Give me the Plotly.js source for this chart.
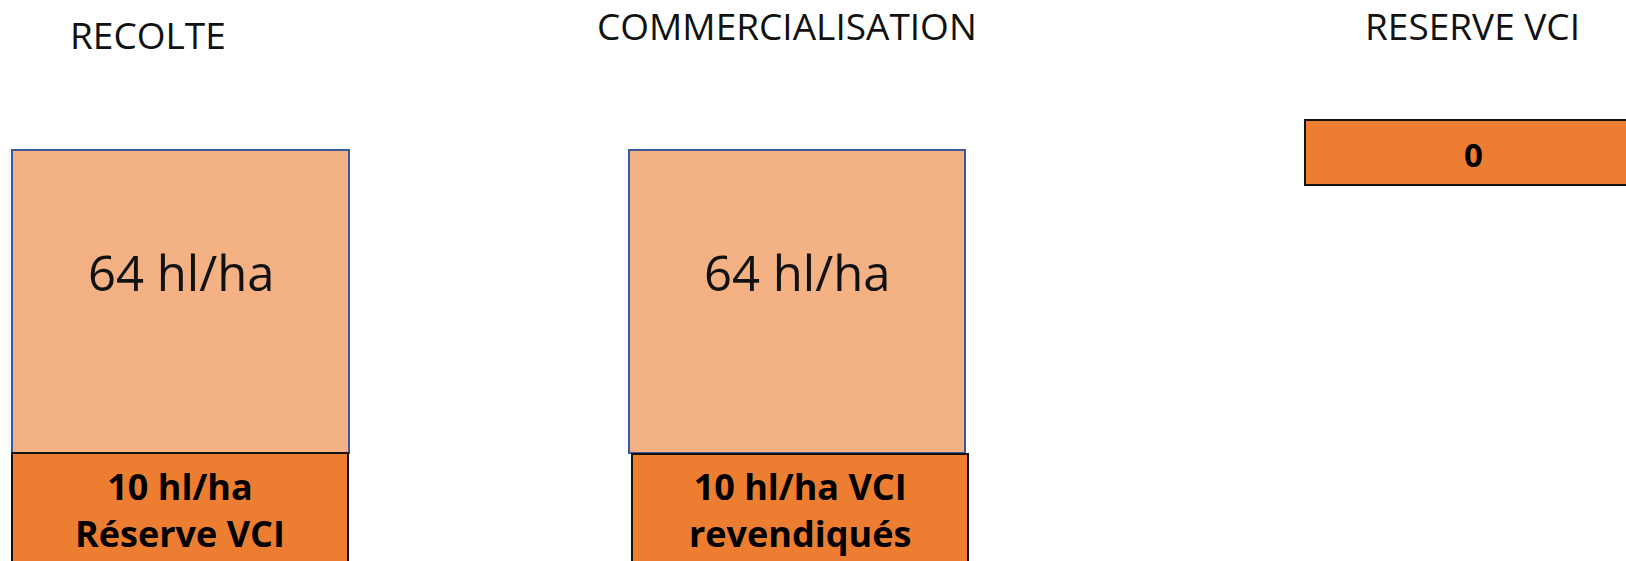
<!DOCTYPE html>
<html><head><meta charset="utf-8">
<script src="https://cdn.plot.ly/plotly-3.0.1.min.js"></script>
<style>html,body{margin:0;padding:0;background:#fff;overflow:hidden}#chart{width:1626px;height:561px;}</style>
</head><body><div id="chart"></div>
<script>
// ---- data ----
const categories = ["RECOLTE", "COMMERCIALISATION", "RESERVE VCI"];
const harvestValues = [64, 64];            // hl/ha shown in the light boxes
const vciValues = [10, 10, 0];             // hl/ha shown in the dark boxes
const vciCaptions = ["Réserve VCI", "VCI revendiqués", ""];

// ---- geometry (page pixels; axes are mapped 1:1 to the page) ----
const W = 1626, H = 561;
const titleX = [148, 787, 1472], titleY = [34, 25, 25];
const lightX = [180.5, 797], lightW = [337, 336], lightTop = 150, lightH = 303;
const darkX = [180, 800, 1473], darkW = [336, 336, 336], darkTop = [453, 454, 120], darkH = [130, 130, 65];
const lightTextY = 272, darkTextY = [510, 510, 154];

const FONT_REG = "Open Sans, Noto Sans, sans-serif";
const FONT_BOLD = "Open Sans, Noto Sans, sans-serif";

const lightTrace = {
  type: "bar", x: lightX, width: lightW,
  base: lightX.map(() => lightTop), y: lightX.map(() => lightH),
  marker: {color: "#F4B183", line: {color: "#3A5A9A", width: 2}},
  hoverinfo: "skip"
};
const darkTrace = {
  type: "bar", x: darkX, width: darkW,
  base: darkTop, y: darkH,
  marker: {color: "#ED7D31", line: {color: "#111111", width: 2}},
  hoverinfo: "skip"
};

const annotations = [];
categories.forEach((c, i) => {
  annotations.push({x: titleX[i], y: titleY[i], text: c, showarrow: false,
    xanchor: "center", yanchor: "middle",
    font: {family: FONT_REG, size: 37, color: "#111"}});
});
harvestValues.forEach((v, i) => {
  annotations.push({x: lightX[i], y: lightTextY, text: v + " hl/ha", showarrow: false,
    xanchor: "center", yanchor: "middle",
    font: {family: FONT_REG, size: 49, color: "#111"}});
});
const vciTexts = [
  "<b>" + vciValues[0] + " hl/ha</b><br><b>" + vciCaptions[0] + "</b>",
  "<b>" + vciValues[1] + " hl/ha VCI</b><br><b>revendiqués</b>",
  "<b>" + vciValues[2] + "</b>"
];
vciTexts.forEach((t, i) => {
  annotations.push({x: darkX[i], y: darkTextY[i], text: t, showarrow: false,
    xanchor: "center", yanchor: "middle",
    font: {family: FONT_BOLD, size: i === 2 ? 33 : 36, color: "#000"}});
});

const layout = {
  width: W, height: H,
  margin: {l: 0, r: 0, t: 0, b: 0, pad: 0},
  paper_bgcolor: "#ffffff", plot_bgcolor: "#ffffff",
  showlegend: false, barmode: "overlay",
  xaxis: {range: [0, W], visible: false, fixedrange: true},
  yaxis: {range: [H, 0], visible: false, fixedrange: true},
  annotations: annotations
};

Plotly.newPlot("chart", [lightTrace, darkTrace], layout, {staticPlot: true, displayModeBar: false});
</script></body></html>
